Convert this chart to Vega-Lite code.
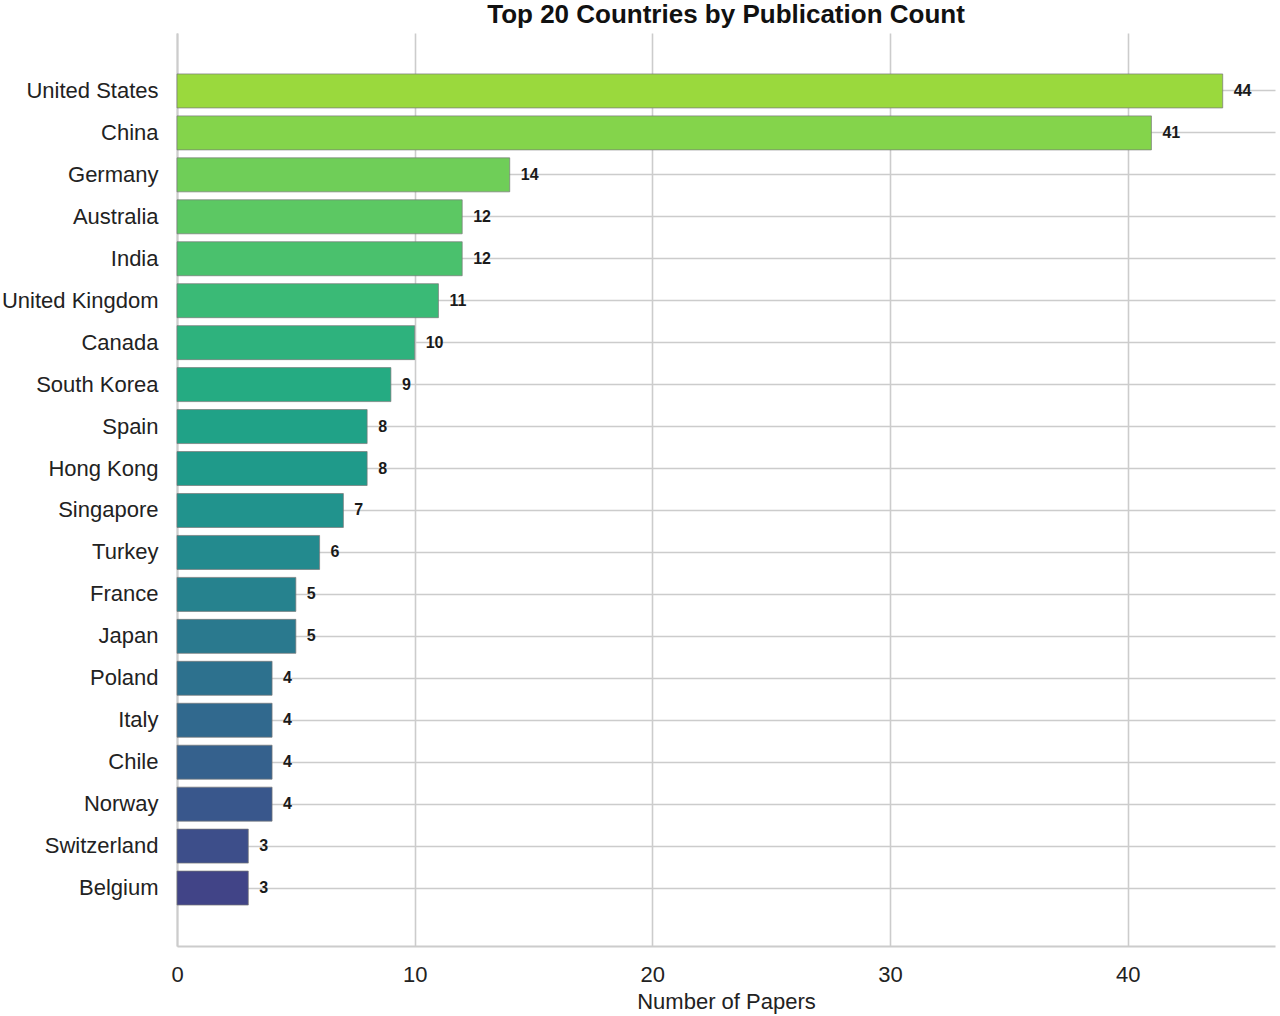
{
  "$schema": "https://vega.github.io/schema/vega-lite/v6.json",
  "autosize": {"type": "none"},
  "padding": {"left": 177, "top": 33, "right": 5, "bottom": 69},
  "width": 1098,
  "height": 913,
  "background": "white",
  "title": {
    "text": "Top 20 Countries by Publication Count",
    "font": "Liberation Sans",
    "fontSize": 26,
    "fontWeight": "bold",
    "color": "#111111",
    "anchor": "middle",
    "offset": 5
  },
  "config": {
    "view": {"stroke": null},
    "font": "Liberation Sans",
    "axis": {
      "labelFont": "Liberation Sans",
      "titleFont": "Liberation Sans",
      "labelColor": "#222222",
      "titleColor": "#222222",
      "gridColor": "#cccccc",
      "gridWidth": 1.6,
      "domainColor": "#cccccc",
      "domainWidth": 2,
      "ticks": false
    }
  },
  "data": {
    "values": [
      {"Country": "United States", "Papers": 44, "rank": 1},
      {"Country": "China", "Papers": 41, "rank": 2},
      {"Country": "Germany", "Papers": 14, "rank": 3},
      {"Country": "Australia", "Papers": 12, "rank": 4},
      {"Country": "India", "Papers": 12, "rank": 5},
      {"Country": "United Kingdom", "Papers": 11, "rank": 6},
      {"Country": "Canada", "Papers": 10, "rank": 7},
      {"Country": "South Korea", "Papers": 9, "rank": 8},
      {"Country": "Spain", "Papers": 8, "rank": 9},
      {"Country": "Hong Kong", "Papers": 8, "rank": 10},
      {"Country": "Singapore", "Papers": 7, "rank": 11},
      {"Country": "Turkey", "Papers": 6, "rank": 12},
      {"Country": "France", "Papers": 5, "rank": 13},
      {"Country": "Japan", "Papers": 5, "rank": 14},
      {"Country": "Poland", "Papers": 4, "rank": 15},
      {"Country": "Italy", "Papers": 4, "rank": 16},
      {"Country": "Chile", "Papers": 4, "rank": 17},
      {"Country": "Norway", "Papers": 4, "rank": 18},
      {"Country": "Switzerland", "Papers": 3, "rank": 19},
      {"Country": "Belgium", "Papers": 3, "rank": 20}
    ]
  },
  "encoding": {
    "y": {
      "field": "Country",
      "type": "nominal",
      "sort": {"field": "rank", "order": "ascending"},
      "scale": {"paddingInner": 0.19, "paddingOuter": 0.976},
      "axis": {
        "title": null,
        "grid": true,
        "labelFontSize": 22,
        "labelPadding": 19,
        "labelLimit": 300
      }
    },
    "x": {
      "field": "Papers",
      "type": "quantitative",
      "scale": {"domain": [0, 46.2], "nice": false},
      "axis": {
        "title": "Number of Papers",
        "values": [0, 10, 20, 30, 40],
        "grid": true,
        "labelFlush": false,
        "labelFontSize": 22,
        "labelPadding": 18,
        "titleFontSize": 22,
        "titleFontWeight": "normal",
        "titlePadding": 6
      }
    }
  },
  "layer": [
    {
      "mark": {"type": "bar", "stroke": "#777777", "strokeWidth": 1, "strokeOpacity": 0.7},
      "encoding": {
        "color": {
          "field": "rank",
          "type": "quantitative",
          "scale": {"scheme": {"name": "viridis", "extent": [0.85, 0.2]}, "domain": [1, 20]},
          "legend": null
        }
      }
    },
    {
      "mark": {"type": "text", "align": "left", "baseline": "middle", "dx": 11, "fontSize": 16, "fontWeight": "bold", "color": "#1a1a1a", "font": "Liberation Sans"},
      "encoding": {
        "text": {"field": "Papers", "type": "quantitative"}
      }
    }
  ]
}
